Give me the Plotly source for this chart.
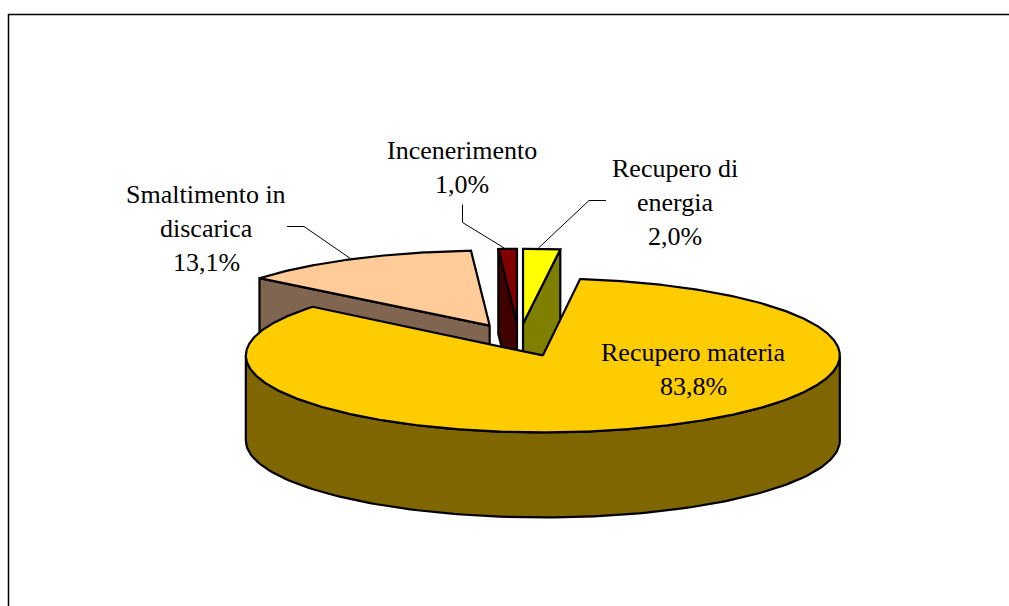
import numpy as np
import plotly.graph_objects as go

# Data (clockwise from 12 o'clock)
categories = ["Recupero di energia", "Recupero materia", "Smaltimento in discarica", "Incenerimento"]
shares = [2.0, 83.8, 13.1, 1.0]
value_labels = ["2,0%", "83,8%", "13,1%", "1,0%"]

# Label layout (pixel space)
label_lines = [["Recupero di", "energia"], ["Recupero materia"], ["Smaltimento in", "discarica"], ["Incenerimento"]]
label_centres = [675, 693, 206, 462]
label_tops = [168, 352, 194, 150]
LINE_STEP = 34
leader_starts = [[(606, 200.5), (589, 200.5)], None, [(287, 226.5), (304, 226.5)], [(462.5, 204.5), (462.5, 222.5)]]
leader_ends_t = [3.0, None, 332.0, 357.5]  # where leaders touch the rim, degrees

# Styles
top_colors = ["#FFFF00", "#FFCC00", "#FFCC99", "#800000"]
wall_colors = ["#808000", "#806600", "#806650", "#400000"]
minor_b = [75, 77, 75, 75]

# Projection
CX, CY = 519, 340
A, DEPTH = 297, 85
EXPLODE = 0.216

total = sum(shares)
sweeps = [s / total * 360 for s in shares]
starts = list(np.cumsum([0] + sweeps[:-1]))

fig = go.Figure()


def poly(xs, ys, fill, width=2.2):
    fig.add_trace(go.Scatter(
        x=list(xs) + [xs[0]], y=list(ys) + [ys[0]], mode="lines", fill="toself",
        fillcolor=fill, line=dict(color="#000000", width=width),
        hoverinfo="skip", showlegend=False))


def rim(ax, ay, b, t):
    r = np.radians(t)
    return ax + A * np.sin(r), ay - b * np.cos(r)


apexes = []
for s, sw, b in zip(starts, sweeps, minor_b):
    mid = np.radians(s + sw / 2)
    apexes.append((CX + EXPLODE * A * np.sin(mid), CY - EXPLODE * b * np.cos(mid)))

# Painter's order: back slices first, the front slice last
order = sorted(range(len(shares)), key=lambda i: apexes[i][1])
for i in order:
    ax, ay = apexes[i]
    b = minor_b[i]
    t0, t1 = starts[i], starts[i] + sweeps[i]
    # radial walls facing the viewer
    for t, visible in ((t0, np.sin(np.radians(t0)) < -1e-6), (t1, np.sin(np.radians(t1)) > 1e-6)):
        if visible:
            ox, oy = rim(ax, ay, b, t)
            poly([ax, ox, ox, ax], [ay, oy, oy + DEPTH, ay + DEPTH], wall_colors[i])
    # outer wall (front half only)
    lo, hi = max(t0, 90), min(t1, 270)
    if hi > lo:
        ts = np.linspace(lo, hi, 120)
        ex, ey = rim(ax, ay, b, ts)
        poly(list(ex) + list(ex[::-1]), list(ey) + list(ey[::-1] + DEPTH), wall_colors[i])
    # top face
    ts = np.linspace(t0, t1, max(4, int(sweeps[i] * 2)))
    ex, ey = rim(ax, ay, b, ts)
    poly([ax] + list(ex), [ay] + list(ey), top_colors[i])

# Leader lines
for i, pts in enumerate(leader_starts):
    if pts:
        ex, ey = rim(*apexes[i], minor_b[i], leader_ends_t[i])
        fig.add_trace(go.Scatter(
            x=[p[0] for p in pts] + [ex], y=[p[1] for p in pts] + [ey - 1], mode="lines",
            line=dict(color="#000000", width=1), hoverinfo="skip", showlegend=False))

# Chart-area frame (runs off the page on the right and at the bottom)
fig.add_trace(go.Scatter(x=[8.5, 8.5, 1009], y=[606, 14.5, 14.5], mode="lines",
                         line=dict(color="#000000", width=1.5), hoverinfo="skip", showlegend=False))

# Labels
for i, lines in enumerate(label_lines):
    for j, text in enumerate(lines + [value_labels[i]]):
        fig.add_annotation(x=label_centres[i], y=label_tops[i] + j * LINE_STEP, text=text,
                           showarrow=False, xanchor="center", yanchor="middle",
                           font=dict(family="Liberation Serif", size=26, color="#000000"))

fig.update_layout(
    width=1009, height=606, margin=dict(l=0, r=0, t=0, b=0),
    paper_bgcolor="#FFFFFF", plot_bgcolor="#FFFFFF", showlegend=False,
    xaxis=dict(range=[0, 1009], visible=False, fixedrange=True),
    yaxis=dict(range=[606, 0], visible=False, fixedrange=True),
)
fig.write_html("out.html", config={"displayModeBar": False},
               post_script="document.body.style.margin='0';document.body.style.overflow='hidden';")
